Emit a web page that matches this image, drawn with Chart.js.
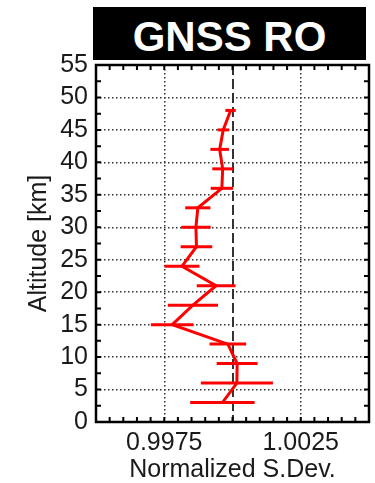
<!DOCTYPE html>
<html>
<head>
<meta charset="utf-8">
<script src="https://cdn.jsdelivr.net/npm/chart.js@4.4.1/dist/chart.umd.min.js"></script>
<style>
    body { margin: 0; background: #fff; }
    #wrap { position: relative; width: 375px; height: 483px; }
    #title {
        position: absolute; left: 93px; top: 7px; width: 273px; height: 53px;
        background: #000; color: #fff; text-align: center;
        font: bold 42px "Liberation Sans", Arial, sans-serif; line-height: 59px;
        overflow: hidden;
    }
</style>
</head>
<body>
<div id="wrap">
    <canvas id="profile" width="375" height="483"></canvas>
    <div id="title">GNSS RO</div>
</div>
<script>
// data profil
var altitude = [3, 6, 9, 12, 15, 18, 21, 24, 27, 30, 33, 36, 39, 42, 45, 48];
var sdev = [0.99963, 1.00016, 1.00017, 0.99983, 0.99779, 0.99855, 0.9994, 0.99815, 0.99868, 0.99866, 0.99873, 0.99961, 0.99964, 0.99953, 0.99966, 0.99993];
var sdevErr = [0.00118, 0.00132, 0.00075, 0.00067, 0.00078, 0.00092, 0.00071, 0.00064, 0.00058, 0.00054, 0.00046, 0.00041, 0.00038, 0.00034, 0.00021, 0.00019];

var xTickLabels = [0.9975, 1.0025];
var xDottedGrid = [0.9975, 1.0025];
var xDashedGrid = [1.0];

var fontFamily = '"Liberation Sans", Arial, sans-serif';

function near(v, list) {
    return list.some(function (t) { return Math.abs(v - t) < 1e-7; });
}

// error bar horizontal
var errorBars = {
    id: 'errorBars',
    afterDatasetsDraw: function (chart) {
        var ctx = chart.ctx, x = chart.scales.x, y = chart.scales.y;
        ctx.save();
        ctx.strokeStyle = '#ff0000';
        ctx.lineWidth = 3;
        for (var i = 0; i < altitude.length; i++) {
            var py = y.getPixelForValue(altitude[i]);
            ctx.beginPath();
            ctx.moveTo(x.getPixelForValue(sdev[i] - sdevErr[i]), py);
            ctx.lineTo(x.getPixelForValue(sdev[i] + sdevErr[i]), py);
            ctx.stroke();
        }
        ctx.restore();
    }
};

// frame + minor ticks ke dalam
var frameTicks = {
    id: 'frameTicks',
    afterDraw: function (chart) {
        var ctx = chart.ctx, a = chart.chartArea, x = chart.scales.x, y = chart.scales.y;
        ctx.save();
        ctx.strokeStyle = '#000';
        ctx.lineWidth = 2;
        ctx.beginPath();
        x.ticks.forEach(function (t) {
            var px = x.getPixelForValue(t.value);
            ctx.moveTo(px, a.top); ctx.lineTo(px, a.top + 5);
            ctx.moveTo(px, a.bottom); ctx.lineTo(px, a.bottom - 5);
        });
        y.ticks.forEach(function (t) {
            var py = y.getPixelForValue(t.value);
            ctx.moveTo(a.left, py); ctx.lineTo(a.left + 5, py);
            ctx.moveTo(a.right, py); ctx.lineTo(a.right - 5, py);
        });
        ctx.stroke();
        ctx.lineWidth = 2.5;
        ctx.strokeRect(a.left, a.top, a.right - a.left, a.bottom - a.top);
        ctx.restore();
    }
};

var points = altitude.map(function (h, i) { return { x: sdev[i], y: h }; });

new Chart(document.getElementById('profile'), {
    type: 'scatter',
    data: {
        datasets: [{
            data: points,
            showLine: true,
            borderColor: '#ff0000',
            borderWidth: 3,
            pointRadius: 0,
            tension: 0
        }]
    },
    options: {
        responsive: false,
        animation: false,
        layout: { padding: { top: 65, right: 5, left: 0, bottom: 0 } },
        plugins: { legend: { display: false }, tooltip: { enabled: false } },
        scales: {
            x: {
                type: 'linear',
                min: 0.995,
                max: 1.005,
                afterFit: function (scale) { scale.height = 61; },
                ticks: {
                    stepSize: 0.0005,
                    autoSkip: false,
                    maxRotation: 0,
                    padding: 6,
                    color: '#1a1a1a',
                    font: { family: fontFamily, size: 25 },
                    callback: function (v) { return near(v, xTickLabels) ? v.toFixed(4) : ''; }
                },
                grid: {
                    drawTicks: false,
                    color: function (c) {
                        if (!c.tick) return 'transparent';
                        if (near(c.tick.value, xDashedGrid)) return '#333';
                        if (near(c.tick.value, xDottedGrid)) return '#333';
                        return 'transparent';
                    },
                    lineWidth: function (c) {
                        return c.tick && near(c.tick.value, xDashedGrid) ? 2 : 1.5;
                    }
                },
                border: {
                    display: false,
                    dash: function (c) {
                        if (!c.tick) return [];
                        return near(c.tick.value, xDashedGrid) ? [10, 4] : [1.5, 2.5];
                    }
                },
                title: {
                    display: true,
                    text: 'Normalized S.Dev.',
                    color: '#1a1a1a',
                    font: { family: fontFamily, size: 25, lineHeight: 1 },
                    padding: { top: 0, bottom: 0 }
                }
            },
            y: {
                type: 'linear',
                min: 0,
                max: 55,
                afterFit: function (scale) { scale.width = 96; },
                ticks: {
                    stepSize: 2.5,
                    autoSkip: false,
                    padding: 8,
                    color: '#1a1a1a',
                    font: { family: fontFamily, size: 25 },
                    callback: function (v) { return v % 5 === 0 ? String(v) : ''; }
                },
                grid: {
                    drawTicks: false,
                    color: function (c) {
                        if (!c.tick) return 'transparent';
                        var v = c.tick.value;
                        return (v % 5 === 0 && v > 0 && v < 55) ? '#333' : 'transparent';
                    },
                    lineWidth: 1.5
                },
                border: { display: false, dash: [1.5, 2.5] },
                title: {
                    display: true,
                    text: 'Altitude [km]',
                    color: '#1a1a1a',
                    font: { family: fontFamily, size: 25, lineHeight: 1.2 },
                    padding: { top: 24, bottom: 0 }
                }
            }
        }
    },
    plugins: [errorBars, frameTicks]
});
</script>
</body>
</html>
